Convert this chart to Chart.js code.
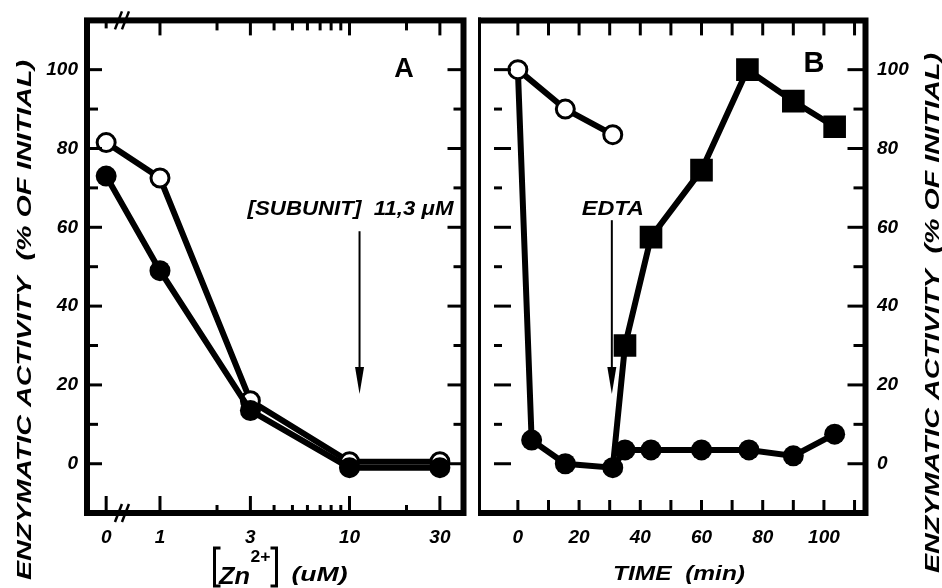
<!DOCTYPE html>
<html>
<head>
<meta charset="utf-8">
<title>Enzymatic activity</title>
<script src="https://cdn.jsdelivr.net/npm/chart.js@4.4.1/dist/chart.umd.min.js"></script>
<style>
  body { margin: 0; background: #fff; }
  #wrap { position: relative; width: 942px; height: 588px; overflow: hidden; background: #fff; }
  #chartA { position: absolute; left: 0; top: 0; }
  #chartB { position: absolute; left: 478px; top: 0; }
</style>
</head>
<body>
<div id="wrap">
  <canvas id="chartA" width="478" height="588"></canvas>
  <canvas id="chartB" width="464" height="588"></canvas>
</div>
<script>
// ---- panel A : activity vs [Zn2+] ----
var zincConc    = [0, 1, 3, 10, 30];
var openA       = [81.5, 72.5, 16, 0.5, 0.5];
var filledA     = [73, 49, 13.5, -1, -1];
var zincLabels  = [0, 1, 3, 10, 30];
var zincMinor   = [2, 4, 5, 6, 7, 8, 9, 20];
var subunitConc = 11.3;

// ---- panel B : activity vs time ----
var timeOpen   = [0, 15.5, 31];
var openB      = [100, 90, 83.5];
var timeFilled = [0, 4.5, 15.5, 31, 35, 43.5, 60, 75.5, 90, 103.5];
var filledB    = [100, 6, 0, -1, 3.5, 3.5, 3.5, 3.5, 2, 7.5];
var timeSquare = [31, 35, 43.5, 60, 75, 90, 103.5];
var squareB    = [-1, 30, 57.5, 74.5, 100, 92, 85.5];
var timeLabels = [0, 20, 40, 60, 80, 100];
var timeMinor  = [10, 30, 50, 70, 90, 110];
var edtaTime   = 30.7;

// shared activity axis
var activityLabels = [0, 20, 40, 60, 80, 100];
var activityMinor  = [10, 30, 50, 70, 90];

// the "0" of the broken log axis sits here, the // mark a bit to the right
var ZERO_POS = 0.52;
var BREAK_POS = 0.63;

var FONT = "'Liberation Sans', Arial, sans-serif";
var tickFont = { family: FONT, size: 19, style: 'italic', weight: 'bold' };

function zincPos(c) { return c === 0 ? ZERO_POS : c; }
function toXY(xs, ys, fx) {
  return xs.map(function (x, i) { return { x: fx ? fx(x) : x, y: ys[i] }; });
}

function hTicks(ctx, ys, values, x0, len) {
  values.forEach(function (v) {
    var y = ys.getPixelForValue(v);
    ctx.beginPath(); ctx.moveTo(x0, y); ctx.lineTo(x0 + len, y); ctx.stroke();
  });
}
function vTicks(ctx, xs, values, y0, len) {
  values.forEach(function (v) {
    var x = xs.getPixelForValue(v);
    ctx.beginPath(); ctx.moveTo(x, y0); ctx.lineTo(x, y0 + len); ctx.stroke();
  });
}
// text squeezed/stretched to a given width
function fitText(ctx, text, x, y, width, rot) {
  ctx.save();
  ctx.translate(x, y);
  if (rot) ctx.rotate(rot);
  var w = ctx.measureText(text).width;
  ctx.scale(width / w, 1);
  ctx.textAlign = 'center';
  ctx.fillText(text, 0, 0);
  ctx.restore();
}
function arrowDown(ctx, x, y0, y1) {
  ctx.lineWidth = 2;
  ctx.beginPath(); ctx.moveTo(x, y0); ctx.lineTo(x, y1 - 22); ctx.stroke();
  ctx.beginPath();
  ctx.moveTo(x - 4.5, y1 - 27); ctx.lineTo(x + 4.5, y1 - 27); ctx.lineTo(x, y1);
  ctx.closePath(); ctx.fill();
}
function breakMark(ctx, x, y) {
  ctx.lineWidth = 2.5;
  [-3, 4].forEach(function (dx) {
    ctx.beginPath(); ctx.moveTo(x + dx - 4, y + 9); ctx.lineTo(x + dx + 3, y - 9); ctx.stroke();
  });
}
function bracket(ctx, x, top, bottom, dir) {
  ctx.lineWidth = 3;
  ctx.beginPath();
  ctx.moveTo(x + dir * 6, top); ctx.lineTo(x, top); ctx.lineTo(x, bottom); ctx.lineTo(x + dir * 6, bottom);
  ctx.stroke();
}

var panelA = {
  id: 'panelA',
  afterDraw: function (chart) {
    var ctx = chart.ctx, a = chart.chartArea, xs = chart.scales.x, ys = chart.scales.y;
    var right = a.right - 2.5;
    ctx.save();
    ctx.strokeStyle = '#000'; ctx.fillStyle = '#000';
    ctx.lineWidth = 6;
    ctx.strokeRect(a.left, a.top, right - a.left, a.bottom - a.top);

    ctx.lineWidth = 3;
    hTicks(ctx, ys, activityLabels, a.left, 15);
    hTicks(ctx, ys, activityMinor, a.left, 11);
    hTicks(ctx, ys, activityLabels, right, -16);
    hTicks(ctx, ys, activityMinor, right, -10);
    vTicks(ctx, xs, zincLabels.map(zincPos), a.bottom, -17);
    vTicks(ctx, xs, zincMinor, a.bottom, -8);
    vTicks(ctx, xs, zincLabels.slice(1), a.top, 15);
    vTicks(ctx, xs, zincMinor, a.top, 10);
    vTicks(ctx, xs, [ZERO_POS], a.top, 8);
    var bx = xs.getPixelForValue(BREAK_POS);
    breakMark(ctx, bx, a.bottom);
    breakMark(ctx, bx, a.top);

    // subunit arrow
    var ax = xs.getPixelForValue(subunitConc);
    arrowDown(ctx, ax, ys.getPixelForValue(59), ys.getPixelForValue(17.7));
    ctx.font = 'italic bold 21px ' + FONT;
    fitText(ctx, '[SUBUNIT]  11,3 \u03bcM', ax - 9, ys.getPixelForValue(63), 206);

    ctx.font = 'bold 27px ' + FONT;
    ctx.textAlign = 'center'; ctx.textBaseline = 'middle';
    ctx.fillText('A', a.right - 62, a.top + 49);
    ctx.textBaseline = 'alphabetic';

    // y title
    ctx.font = 'italic bold 20px ' + FONT;
    ctx.textBaseline = 'middle';
    fitText(ctx, 'ENZYMATIC ACTIVITY  (% OF INITIAL)', a.left - 62, 320, 520, -Math.PI / 2);
    ctx.textBaseline = 'alphabetic';

    // x title  [Zn2+] (uM)
    var xc = (a.left + a.right) / 2;
    bracket(ctx, xc - 62, 548, 586, 1);
    ctx.font = 'italic bold 24px ' + FONT;
    fitText(ctx, 'Zn', xc - 42, 584, 31);
    ctx.font = 'bold 16px ' + FONT;
    fitText(ctx, '2+', xc - 16, 562, 20);
    bracket(ctx, xc + 0, 548, 586, -1);
    ctx.font = 'italic bold 20px ' + FONT;
    fitText(ctx, '(uM)', xc + 43, 581, 56);
    ctx.restore();
  }
};

var panelB = {
  id: 'panelB',
  afterDraw: function (chart) {
    var ctx = chart.ctx, a = chart.chartArea, xs = chart.scales.x, ys = chart.scales.y;
    var right = a.right - 2.5;
    ctx.save();
    ctx.strokeStyle = '#000'; ctx.fillStyle = '#000';
    ctx.lineWidth = 6;
    ctx.beginPath();
    ctx.moveTo(-2, a.top); ctx.lineTo(right, a.top); ctx.lineTo(right, a.bottom); ctx.lineTo(-2, a.bottom);
    ctx.stroke();
    ctx.beginPath(); ctx.moveTo(0, a.top - 3); ctx.lineTo(0, a.bottom + 3); ctx.stroke();

    ctx.lineWidth = 3;
    hTicks(ctx, ys, activityLabels, a.left, 17);
    hTicks(ctx, ys, activityMinor, a.left, 8);
    hTicks(ctx, ys, activityLabels, right, -18);
    hTicks(ctx, ys, activityMinor, right, -12);
    vTicks(ctx, xs, timeLabels.concat(timeMinor), a.bottom, -13);
    vTicks(ctx, xs, timeLabels.concat(timeMinor), a.top, 15);

    // EDTA arrow
    var ex = xs.getPixelForValue(edtaTime);
    arrowDown(ctx, ex, ys.getPixelForValue(61.8), ys.getPixelForValue(17.7));
    ctx.font = 'italic bold 20px ' + FONT;
    fitText(ctx, 'EDTA', ex + 1, ys.getPixelForValue(63), 62);

    ctx.font = 'bold 29px ' + FONT;
    ctx.textAlign = 'center'; ctx.textBaseline = 'middle';
    ctx.fillText('B', a.right - 54, a.top + 44);

    // right y title, reading upwards
    ctx.font = 'italic bold 20px ' + FONT;
    fitText(ctx, 'ENZYMATIC ACTIVITY  (% OF INITIAL)', a.right + 65, 313, 520, -Math.PI / 2);
    ctx.textBaseline = 'alphabetic';

    ctx.font = 'italic bold 20px ' + FONT;
    fitText(ctx, 'TIME  (min)', (a.left + a.right) / 2 - 2, 580, 132);
    ctx.restore();
  }
};

var lineStyle = { borderColor: '#000', borderWidth: 6, tension: 0, pointBorderColor: '#000' };
function series(opts) { return Object.assign({}, lineStyle, opts); }

var yCommon = {
  type: 'linear', min: -12.5, max: 112.5,
  grid: { display: false, drawTicks: false }, border: { display: false },
  afterBuildTicks: function (s) { s.ticks = activityLabels.map(function (v) { return { value: v }; }); },
  ticks: { font: tickFont, color: '#000', padding: 9 }
};

new Chart(document.getElementById('chartA'), {
  type: 'line',
  data: {
    datasets: [
      series({ data: toXY(zincConc, filledA, zincPos), pointRadius: 10.5, pointBackgroundColor: '#000', pointBorderWidth: 0 }),
      series({ data: toXY(zincConc, openA, zincPos), pointRadius: 9, pointBackgroundColor: '#fff', pointBorderWidth: 3 })
    ]
  },
  options: {
    responsive: false, animation: false, events: [],
    layout: { padding: { top: 18, right: 0, left: 0, bottom: 0 } },
    plugins: { legend: { display: false }, tooltip: { enabled: false } },
    scales: {
      x: {
        type: 'logarithmic', min: 0.412, max: 41.2,
        grid: { display: false, drawTicks: false }, border: { display: false },
        afterBuildTicks: function (s) { s.ticks = zincLabels.map(function (v) { return { value: zincPos(v) }; }); },
        afterFit: function (s) { s.height = 75; },
        ticks: {
          font: tickFont, color: '#000', padding: 13, autoSkip: false, maxRotation: 0,
          callback: function (v) { return v === ZERO_POS ? '0' : String(v); }
        }
      },
      y: Object.assign({}, yCommon, { position: 'left', afterFit: function (s) { s.width = 87; } })
    }
  },
  plugins: [panelA]
});

new Chart(document.getElementById('chartB'), {
  type: 'line',
  data: {
    datasets: [
      series({ data: toXY(timeOpen, openB), pointRadius: 9, pointBackgroundColor: '#fff', pointBorderWidth: 3 }),
      series({ data: toXY(timeFilled, filledB), pointRadius: timeFilled.map(function (t, i) { return i === 0 ? 0 : 10.5; }),
               pointBackgroundColor: '#000', pointBorderWidth: 0 }),
      series({ data: toXY(timeSquare, squareB), pointStyle: 'rect', pointRadius: timeSquare.map(function (t, i) { return i === 0 ? 0 : 16; }),
               pointBackgroundColor: '#000', pointBorderWidth: 0 })
    ]
  },
  options: {
    responsive: false, animation: false, events: [],
    layout: { padding: { top: 18, right: 0, left: 0, bottom: 0 } },
    plugins: { legend: { display: false }, tooltip: { enabled: false } },
    scales: {
      x: {
        type: 'linear', min: -7.8, max: 114.4,
        grid: { display: false, drawTicks: false }, border: { display: false },
        afterBuildTicks: function (s) { s.ticks = timeLabels.map(function (v) { return { value: v }; }); },
        afterFit: function (s) { s.height = 75; },
        ticks: { font: tickFont, color: '#000', padding: 13, autoSkip: false, maxRotation: 0 }
      },
      y: Object.assign({}, yCommon, { position: 'right', afterFit: function (s) { s.width = 74; } })
    }
  },
  plugins: [panelB]
});
</script>
</body>
</html>
